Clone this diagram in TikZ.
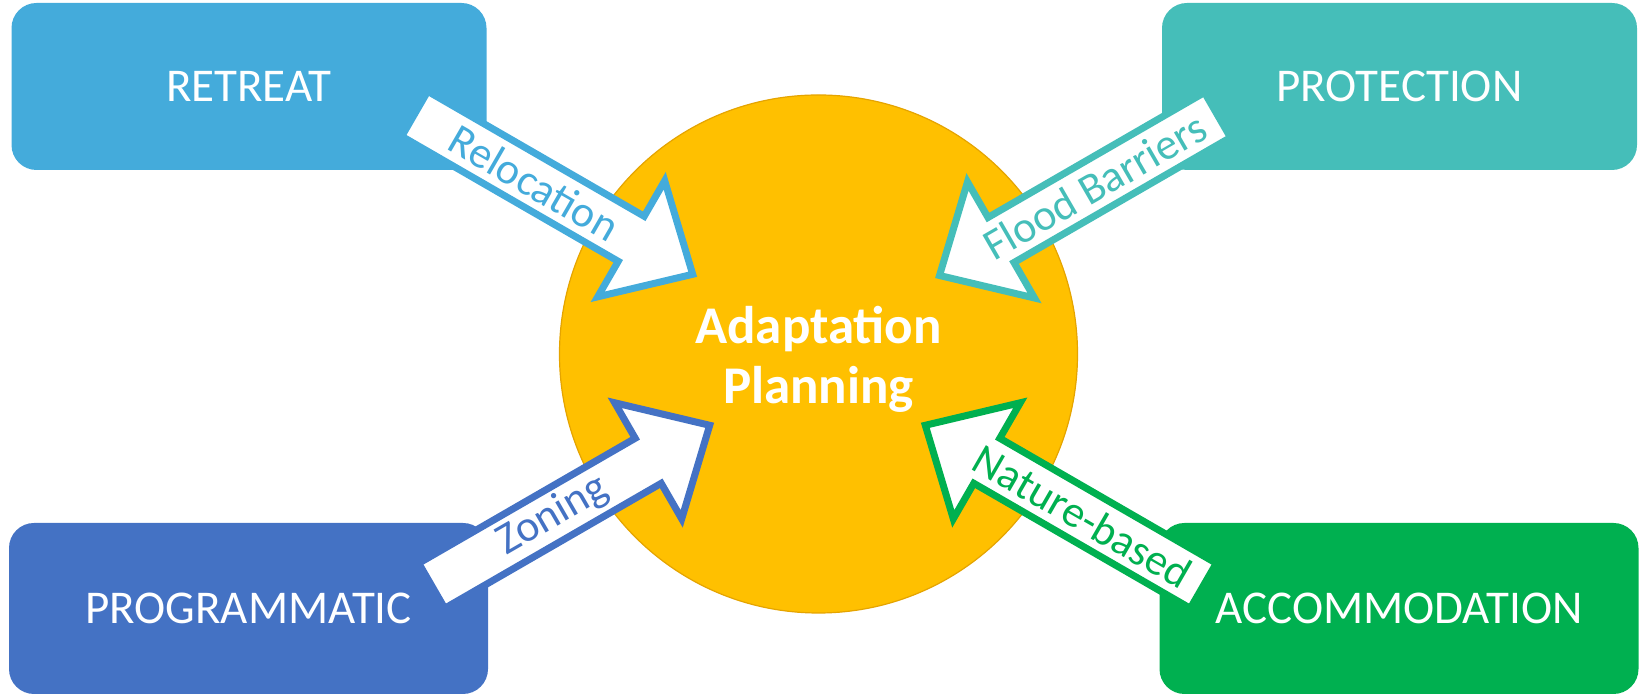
\documentclass[tikz,border=0pt]{standalone}
\usepackage{fontspec}
\setmainfont{Carlito}
\usetikzlibrary{positioning}

\definecolor{retreatblue}{HTML}{44ABDB}
\definecolor{protectteal}{HTML}{45BEB9}
\definecolor{programblue}{HTML}{4472C4}
\definecolor{accomgreen}{HTML}{00B050}
\definecolor{plangold}{HTML}{FFC000}
\definecolor{planedge}{HTML}{E5A400}

\tikzstyle{option} = [rectangle, rounded corners=12.5pt, text=white, font=\fontsize{23.5}{28}\selectfont]
\tikzstyle{topbox} = [option, minimum width=237.5pt, minimum height=83.5pt]
\tikzstyle{bottombox} = [option, minimum width=239.5pt, minimum height=85.5pt]
\tikzstyle{plan} = [circle, minimum size=259pt, fill=plangold, draw=planedge, line width=0.6pt]
\tikzstyle{title} = [text=white, align=center, font=\bfseries\fontsize{26.5}{30}\selectfont]
\tikzstyle{blockarrow} = [fill=white, line width=3.5pt, line join=miter]
\tikzstyle{arrowtext} = [font=\fontsize{22}{26}\selectfont]

\begin{document}
\begin{tikzpicture}[x=0.5pt, y=0.5pt]
\useasboundingbox (0,0) rectangle (1640,695);

%Nodes
\node (retreat) [topbox, fill=retreatblue] at (249,608.5) {RETREAT};
\node (protection) [topbox, fill=protectteal] at (1399.5,608.5) {PROTECTION};
\node (programmatic) [bottombox, fill=programblue] at (248.5,86.5) {PROGRAMMATIC};
\node (accommodation) [bottombox, fill=accomgreen] at (1399,86.5) {ACCOMMODATION};
\node (plan) [plan] at (818.5,341) {};

%Arrow tails
\coordinate (reloctail) at (414.7,581.2);
\coordinate (floodtail) at (1217.5,580);
\coordinate (zoningtail) at (431.7,109.2);
\coordinate (naturetail) at (1203.3,109.2);

%Arrows
\begin{scope}[shift={(reloctail)}, rotate=-30]
\draw [blockarrow, draw=retreatblue] (0,-26) -- (250,-26) -- (250,-67) -- (321,0) -- (250,67) -- (250,26) -- (0,26) -- cycle;
\node (reloc) [arrowtext, text=retreatblue, rotate=-30] at (138,0) {Relocation};
\end{scope}

\begin{scope}[shift={(floodtail)}, rotate=210]
\draw [blockarrow, draw=protectteal] (0,-26) -- (250,-26) -- (250,-67) -- (321,0) -- (250,67) -- (250,26) -- (0,26) -- cycle;
\node (flood) [arrowtext, text=protectteal, rotate=30] at (142,0) {Flood Barriers};
\end{scope}

\begin{scope}[shift={(zoningtail)}, rotate=30]
\draw [blockarrow, draw=programblue] (0,-26) -- (250,-26) -- (250,-67) -- (321,0) -- (250,67) -- (250,26) -- (0,26) -- cycle;
\node (zoning) [arrowtext, text=programblue, rotate=30] at (140,0) {Zoning};
\end{scope}

\begin{scope}[shift={(naturetail)}, rotate=150]
\draw [blockarrow, draw=accomgreen] (0,-26) -- (250,-26) -- (250,-67) -- (321,0) -- (250,67) -- (250,26) -- (0,26) -- cycle;
\node (nature) [arrowtext, text=accomgreen, rotate=-30] at (139,0) {Nature-based};
\end{scope}

%Centre text
\node (plantext) [title] at ([yshift=-2.5pt]plan.center) {Adaptation\\Planning};

\end{tikzpicture}
\end{document}
